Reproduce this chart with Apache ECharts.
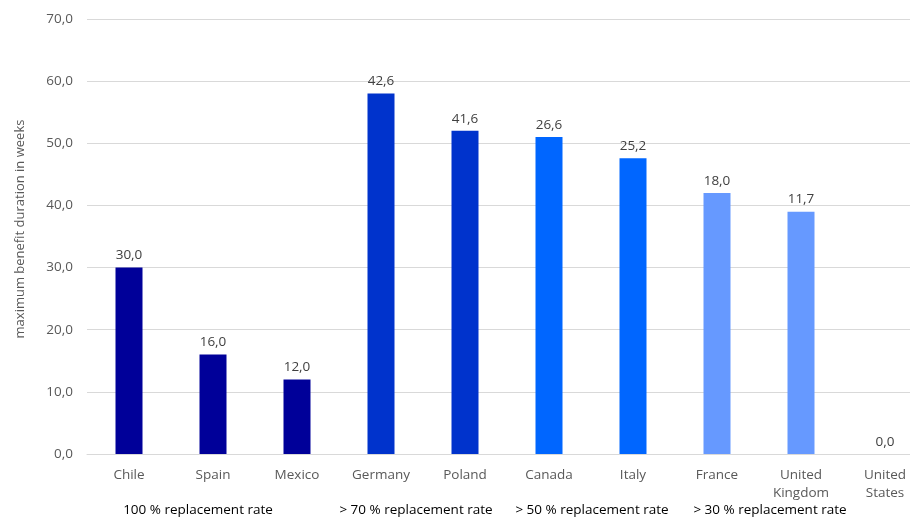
<!DOCTYPE html>
<html>
<head>
<meta charset="utf-8">
<script src="https://cdn.jsdelivr.net/npm/echarts@6/dist/echarts.min.js"></script>
<style>html,body{margin:0;padding:0;background:#fff;overflow:hidden;width:910px;height:523px;}#c{width:927px;height:523px;}</style>
</head>
<body>
<div id="c"></div>
<script>
var categories = ['Chile', 'Spain', 'Mexico', 'Germany', 'Poland', 'Canada', 'Italy', 'France', 'United\nKingdom', 'United\nStates'];
var barValues = [30, 16, 12, 58, 52, 51, 47.6, 42, 39, 0];
var labelTexts = ['30,0', '16,0', '12,0', '42,6', '41,6', '26,6', '25,2', '18,0', '11,7', '0,0'];
var barColors = ['#000099', '#000099', '#000099', '#0033CC', '#0033CC', '#0066FF', '#0066FF', '#6699FF', '#6699FF', '#6699FF'];
var groupLabels = ['100 % replacement rate', '> 70 % replacement rate', '> 50 % replacement rate', '> 30 % replacement rate'];
var groupCenters = [198, 416, 592, 770];
var yTicks = [0, 10, 20, 30, 40, 50, 60, 70];
var yAxisTitle = 'maximum benefit duration in weeks';

var FONT = 'Open Sans';
var chart = echarts.init(document.getElementById('c'), null, {renderer: 'canvas'});
chart.setOption({
  animation: false,
  textStyle: {fontFamily: FONT},
  grid: {left: 87, right: 0, top: 19, bottom: 69, containLabel: false},
  xAxis: {
    type: 'category',
    data: categories,
    axisLine: {lineStyle: {color: '#D9D9D9'}},
    axisTick: {show: false},
    axisLabel: {color: '#595959', fontSize: 13.5, fontFamily: FONT, margin: 12, lineHeight: 18, interval: 0}
  },
  yAxis: {
    type: 'value',
    min: 0, max: 70, interval: 10,
    axisLine: {show: false},
    axisTick: {show: false},
    splitLine: {lineStyle: {color: '#D9D9D9'}},
    axisLabel: {color: '#595959', fontSize: 13.5, fontFamily: FONT, margin: 14,
      formatter: function (v) { return yTicks.indexOf(v) >= 0 ? v.toFixed(1).replace('.', ',') : ''; }}
  },
  series: [{
    type: 'bar',
    barWidth: 27,
    data: barValues.map(function (v, i) { return {value: v, itemStyle: {color: barColors[i]}}; }),
    label: {
      show: true, position: 'top', distance: 5,
      color: '#404040', fontSize: 13.5, fontFamily: FONT,
      formatter: function (p) { return labelTexts[p.dataIndex]; }
    }
  }],
  graphic: groupLabels.map(function (t, i) {
    return {type: 'text', x: groupCenters[i], y: 510,
      style: {text: t, fill: '#000000', font: '13.5px "' + FONT + '"', textAlign: 'center', textVerticalAlign: 'middle'}};
  }).concat([{
    type: 'text', x: 20, y: 229, rotation: Math.PI / 2,
    style: {text: yAxisTitle, fill: '#595959', font: '13px "' + FONT + '"', textAlign: 'center', textVerticalAlign: 'middle'}
  }])
});
</script>
</body>
</html>
